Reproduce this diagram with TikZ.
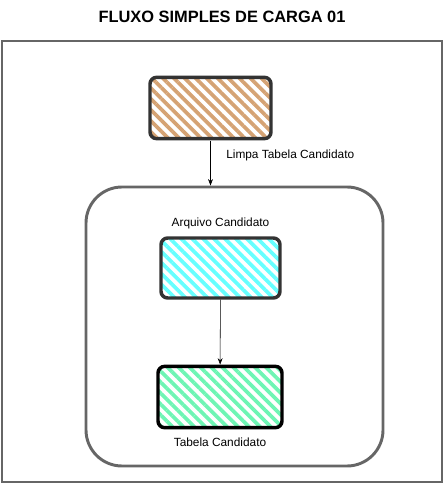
\documentclass[tikz,border=0pt]{standalone}
\usepackage{fontspec}
\setmainfont{Liberation Sans}
\usetikzlibrary{positioning,arrows.meta,patterns.meta}
\definecolor{tan}{RGB}{213,163,116}
\definecolor{aqua}{RGB}{102,255,255}
\definecolor{mint}{RGB}{110,245,180}
\definecolor{frame}{RGB}{102,102,102}
\definecolor{edge}{RGB}{51,51,51}
\tikzset{
block/.style = {draw=edge, rectangle, rounded corners=5pt, line width=2.6pt, minimum width=90pt, minimum height=46pt},
hatch/.style = {pattern={Lines[angle=-45,distance=5.8pt,line width=2.8pt]}, pattern color=#1},
group/.style = {draw=frame, rectangle, rounded corners=27pt, line width=2.2pt, minimum width=222.75pt, minimum height=209.25pt},
lbl/.style = {font=\fontsize{8.9}{10}\selectfont, inner sep=0pt},
tmp/.style = {coordinate}
}
\begin{document}
\begin{tikzpicture}[x=0.75pt,y=-0.75pt,>=Stealth]
    \useasboundingbox (0,0) rectangle (444,484);
    % title and frame
    \node [font=\bfseries\fontsize{12.3}{14}\selectfont] (title) at (222,17) {FLUXO SIMPLES DE CARGA 01};
    \draw [frame, line width=2.2pt] (2,41) rectangle (442,482);

    % We start by placing the blocks
    \node [block, hatch=tan, minimum width=90.75pt] (limpa) at (210.5,108) {};
    \node [group] (carga) at (234.5,326.5) {};
    \node [block, hatch=aqua, minimum width=89.25pt, minimum height=45pt] (arquivo) at (220.5,268) {};
    \node [block, hatch=mint, draw=black, minimum width=93pt] (tabela) at (220,397) {};

    % labels
    \node [lbl, anchor=west] (lblLimpa) at (226,155) {Limpa Tabela Candidato};
    \node [lbl, above=5.5pt of arquivo] (lblArquivo) {Arquivo Candidato};
    \node [lbl, below=6pt of tabela] (lblTabela) {Tabela Candidato};

    % connectors
    \draw [->, thin] (limpa) -- (limpa.south |- carga.north);
    \draw [->, thin] (arquivo) -- (tabela);
\end{tikzpicture}
\end{document}
